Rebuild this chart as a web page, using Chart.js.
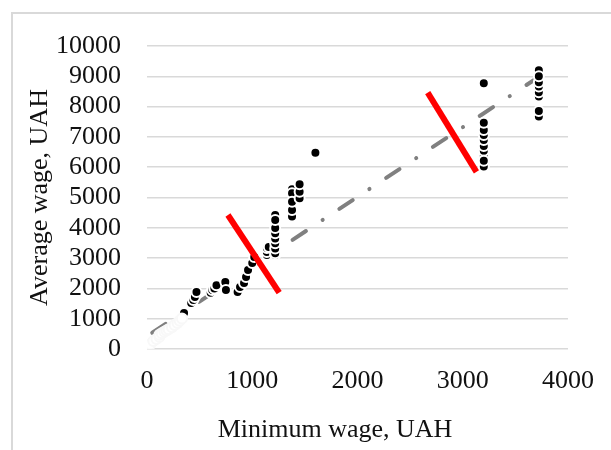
<!DOCTYPE html>
<html>
<head>
<meta charset="utf-8">
<script src="https://cdn.jsdelivr.net/npm/chart.js@4.4.0/dist/chart.umd.min.js"></script>
<style>
  html, body { margin: 0; padding: 0; background: #fff; overflow: hidden; }
  #wrap { position: relative; width: 611px; height: 450px; }
  #frame { position: absolute; left: 11px; top: 12px; width: 660px; height: 500px;
           border: 2px solid #d9d9d9; box-sizing: border-box; }
  #c { position: absolute; left: 0; top: 0; }
</style>
</head>
<body>
<div id="wrap">
  <div id="frame"></div>
  <canvas id="c" width="611" height="450"></canvas>
</div>
<script>
// Monthly minimum wage vs. average wage, UAH

// earliest months (light markers)
const earlyMinWage = [30, 60, 90, 118, 118, 140, 165, 185, 205, 237, 262, 290, 310, 332];
const earlyAvgWage = [150, 260, 330, 400, 470, 520, 570, 610, 650, 720, 790, 860, 930, 1010];

// remaining months
const minWage = [
  352, 420, 440, 455, 470, 605, 620, 640, 660, 744, 750, 861, 884, 922, 941, 960, 1000, 1019,
  1139, 1139, 1139, 1157,
  1218, 1218, 1218, 1218, 1218, 1218, 1218, 1218, 1218,
  1378, 1378, 1378, 1378, 1378,
  1450, 1450, 1450,
  1600,
  3200, 3200, 3200, 3200, 3200, 3200, 3200, 3200, 3200, 3200,
  3723, 3723, 3723, 3723, 3723, 3723, 3723, 3723
];
const avgWage = [
  1190, 1520, 1620, 1720, 1880, 1860, 1950, 2000, 2100, 2210, 1950, 1880, 2050, 2178, 2380, 2607, 2838, 3036,
  3102, 3201, 3333, 3366,
  3100, 3160, 3320, 3490, 3650, 3820, 3990, 4420, 4260,
  4370, 4590, 5270, 5140, 4860,
  4974, 5191, 5435,
  6478,
  6020, 6370, 6545, 6700, 6900, 7063, 7228, 7470, 6215, 8770,
  7670, 7855, 8330, 8470, 8660, 8800, 9200, 9000
];

// linear trend end points
const trendX = [50, 3723];
const trendY = [535, 8983];

// structural break markers
const break1X = [769, 1256];
const break1Y = [4422, 1858];
const break2X = [2667, 3130];
const break2Y = [8459, 5848];

// axis ticks and titles
const xTickValues = [0, 1000, 2000, 3000, 4000];
const yTickValues = [0, 1000, 2000, 3000, 4000, 5000, 6000, 7000, 8000, 9000, 10000];
const xTitle = 'Minimum wage, UAH';
const yTitle = 'Average wage, UAH';

const toPoints = (xs, ys) => xs.map((x, i) => ({ x: x, y: ys[i] }));

const FONT_FAMILY = "'Liberation Serif', 'Times New Roman', serif";
const TEXT_COLOR = '#111';

// x axis title, set slightly left of the plot centre
const xTitlePlugin = {
  id: 'xTitle',
  afterDraw(chart) {
    const ctx = chart.ctx;
    const area = chart.chartArea;
    ctx.save();
    ctx.font = '26px ' + FONT_FAMILY;
    ctx.fillStyle = TEXT_COLOR;
    ctx.textAlign = 'center';
    ctx.textBaseline = 'alphabetic';
    ctx.fillText(xTitle, area.left + 188, area.bottom + 88);
    ctx.restore();
  }
};

const plainNumber = v => String(v);

new Chart(document.getElementById('c'), {
  type: 'scatter',
  data: {
    datasets: [
      {
        label: 'trend',
        data: toPoints(trendX, trendY),
        showLine: true,
        borderColor: '#808080',
        borderWidth: 4,
        borderDash: [16, 20, 0.1, 20],
        borderCapStyle: 'round',
        pointRadius: 0,
        order: 3
      },
      {
        label: 'early',
        data: toPoints(earlyMinWage, earlyAvgWage),
        pointRadius: 5,
        pointBorderWidth: 2,
        pointBackgroundColor: '#ffffff',
        pointBorderColor: '#f8f8f8',
        order: 2
      },
      {
        label: 'wages',
        data: toPoints(minWage, avgWage),
        pointRadius: 5,
        pointBorderWidth: 2,
        pointBackgroundColor: '#000000',
        pointBorderColor: '#ffffff',
        order: 2
      },
      {
        label: 'break 1',
        data: toPoints(break1X, break1Y),
        showLine: true,
        borderColor: '#ff0000',
        borderWidth: 6,
        borderCapStyle: 'butt',
        pointRadius: 0,
        order: 1
      },
      {
        label: 'break 2',
        data: toPoints(break2X, break2Y),
        showLine: true,
        borderColor: '#ff0000',
        borderWidth: 6,
        borderCapStyle: 'butt',
        pointRadius: 0,
        order: 1
      }
    ]
  },
  options: {
    responsive: false,
    animation: false,
    events: [],
    layout: { padding: { top: 46, right: 32, left: 0, bottom: 0 } },
    plugins: {
      legend: { display: false },
      tooltip: { enabled: false }
    },
    scales: {
      x: {
        type: 'linear',
        min: 0,
        max: 4000,
        afterBuildTicks(scale) { scale.ticks = xTickValues.map(v => ({ value: v })); },
        afterFit(scale) { scale.height = 101; },
        grid: { display: false, drawTicks: false },
        border: { display: false },
        ticks: {
          padding: 17,
          maxRotation: 0,
          autoSkip: false,
          callback: plainNumber,
          color: TEXT_COLOR,
          font: { family: FONT_FAMILY, size: 26 }
        }
      },
      y: {
        type: 'linear',
        min: 0,
        max: 10000,
        afterBuildTicks(scale) { scale.ticks = yTickValues.map(v => ({ value: v })); },
        afterFit(scale) { scale.width = 147; },
        grid: { color: '#d9d9d9', lineWidth: 1.5, drawTicks: false },
        border: { display: false },
        ticks: {
          padding: 26,
          autoSkip: false,
          callback: plainNumber,
          color: TEXT_COLOR,
          font: { family: FONT_FAMILY, size: 26 }
        },
        title: {
          display: true,
          text: yTitle,
          color: TEXT_COLOR,
          font: { family: FONT_FAMILY, size: 26 },
          padding: { top: 25, bottom: 0 }
        }
      }
    }
  },
  plugins: [xTitlePlugin]
});
</script>
</body>
</html>
